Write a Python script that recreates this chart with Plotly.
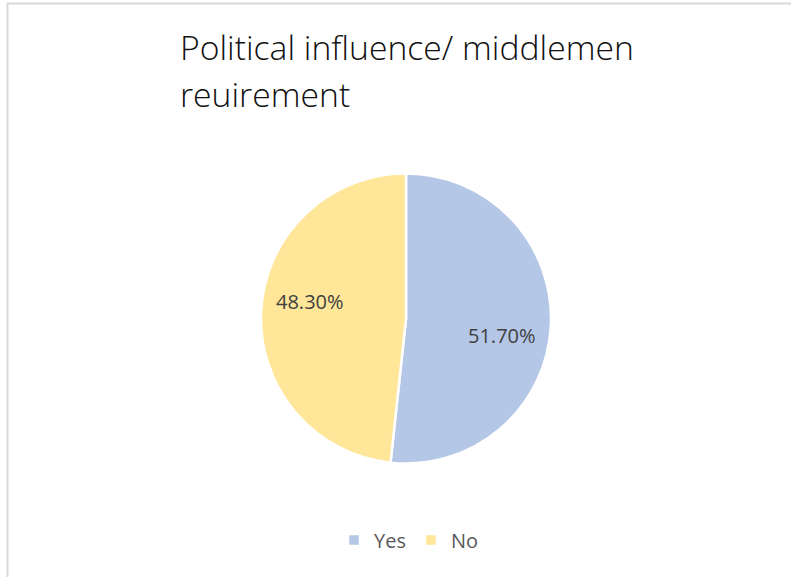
import math
import plotly.graph_objects as go

# Survey answers and their shares (%)
categories = ["Yes", "No"]
shares = [51.70, 48.30]
colors = ["#B4C7E7", "#FFE699"]
title_lines = ["Political influence/ middlemen", "reuirement"]

W, H = 791, 577

# pie placement (pixels)
cx, cy, R = 406, 318.5, 145

fig = go.Figure(
    go.Pie(
        labels=categories,
        values=shares,
        sort=False,
        direction="clockwise",
        rotation=0,
        marker=dict(colors=colors, line=dict(color="white", width=2.5)),
        textinfo="none",
        domain=dict(x=[(cx - R) / W, (cx + R) / W], y=[(H - cy - R) / H, (H - cy + R) / H]),
        hoverinfo="label+percent",
    )
)

# value labels placed just past each slice's mid-angle
annotations = []
total = sum(shares)
start = 0.0
for val in shares:
    mid = (start + val / 2) / total * 2 * math.pi + math.radians(7)
    start += val
    px = cx + 0.67 * R * math.sin(mid)
    py = cy - 0.67 * R * math.cos(mid)
    annotations.append(
        dict(
            text=f"{val:.2f}%",
            x=px / W,
            y=1 - py / H,
            xref="paper",
            yref="paper",
            xanchor="center",
            yanchor="middle",
            showarrow=False,
            font=dict(family="Open Sans", size=20, color="#404040"),
        )
    )

# two-line chart title
for line, ymid in zip(title_lines, [47, 94]):
    annotations.append(
        dict(
            text=line,
            x=178 / W,
            y=1 - ymid / H,
            xref="paper",
            yref="paper",
            xanchor="left",
            yanchor="middle",
            showarrow=False,
            font=dict(family="Open Sans", size=33.7, color="#111111", weight=300),
        )
    )

fig.update_layout(
    width=W,
    height=H,
    margin=dict(l=0, r=0, t=0, b=0),
    paper_bgcolor="white",
    plot_bgcolor="white",
    annotations=annotations,
    legend=dict(
        orientation="h",
        x=409 / W,
        xanchor="center",
        y=1 - 540 / H,
        yanchor="middle",
        font=dict(family="Open Sans", size=20, color="#595959"),
        itemwidth=30,
    ),
    shapes=[
        dict(
            type="rect",
            xref="paper",
            yref="paper",
            x0=7.5 / W,
            x1=1.05,
            y0=-0.05,
            y1=1 - 3.5 / H,
            line=dict(color="#d9d9d9", width=2),
        )
    ],
)

fig.write_html("out.html")
